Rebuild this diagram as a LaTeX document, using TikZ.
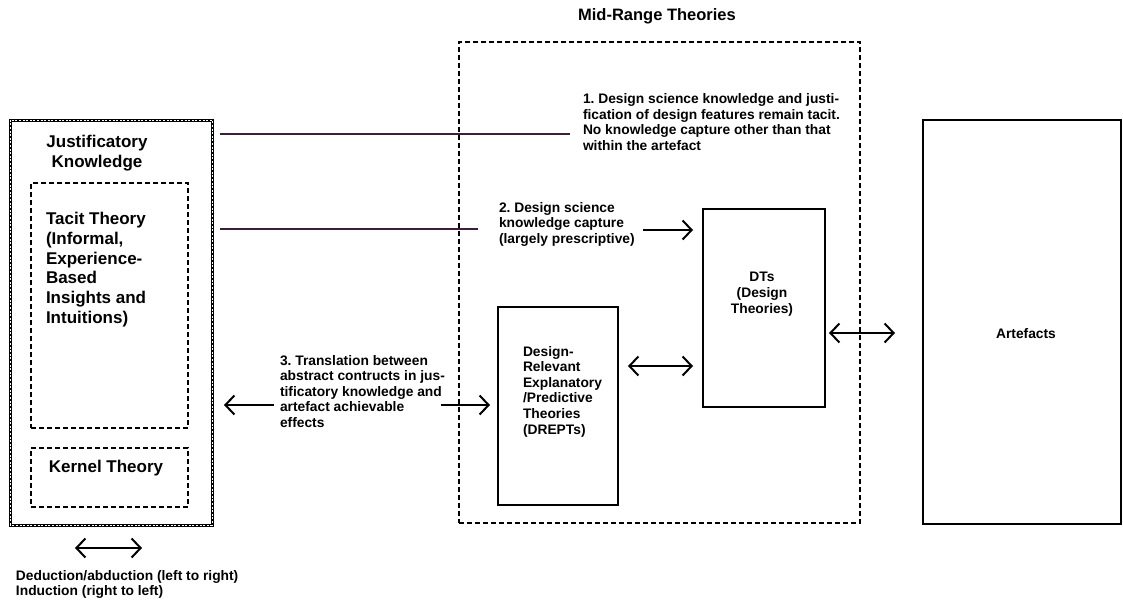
\documentclass[tikz,border=0pt]{standalone}
\usepackage{fontspec}
\setmainfont{Liberation Sans}
\usetikzlibrary{arrows.meta}
\definecolor{linkline}{RGB}{60,30,60}
\frenchspacing
\begin{document}
\begin{tikzpicture}[x=1pt,y=-1pt,
  every node/.style={inner sep=0pt, outer sep=0pt},
  ann/.style={align=left, anchor=north west, font=\bfseries\fontsize{13.8}{15.6}\selectfont},
  annc/.style={align=center, anchor=north, font=\bfseries\fontsize{13.8}{15.8}\selectfont},
  head/.style={font=\bfseries\fontsize{17}{19.7}\selectfont},
  frame/.style args={#1x#2}{draw, rectangle, minimum width=#1pt, minimum height=#2pt},
  dashbox/.style={dash pattern=on 5pt off 3pt, line width=1.2pt},
  conn/.style={draw=linkline, line width=2pt},
  tip/.tip={Straight Barb[length=9pt,width=19pt]},
  arr/.style={line width=2pt, tip-tip},
  arrone/.style={line width=2pt, -tip}
  ]
\useasboundingbox (0,0) rectangle (1123,603);

% Title of the middle region
\node[font=\bfseries\fontsize{16.5}{19}\selectfont] (title) at (657,16.5) {Mid-Range Theories};

% Justificatory knowledge with its two inner boxes
\node[frame=202x405, line width=3pt] (jk) at (111,322.5) {};
\draw[white, line width=0.8pt, dash pattern=on 2pt off 1.6pt] (jk.south west) rectangle (jk.north east);
\node[head, align=center, anchor=north] (jktitle) at (97,135.5) {Justificatory\\Knowledge};
\node[frame=157x245, dashbox] (tacit) at (109.5,305.5) {};
\node[head, align=left, anchor=north west] (tacittext) at (46,212.5)
  {Tacit Theory\\(Informal,\\Experience-\\Based\\Insights and\\Intuitions)};
\node[frame=157x59, dashbox] (kernel) at (109.5,477.5) {};
\node[head] (kerneltext) at (106,468.5) {Kernel Theory};

% Mid-range theories region
\node[frame=401x481, dashbox] (mid) at (659.5,282.5) {};
\node[frame=120x198, line width=1.3pt] (drepts) at (558,406) {};
\node[ann] (dreptstext) at (523,346)
  {Design-\\Relevant\\Explanatory\\/Predictive\\Theories\\(DREPTs)};
\node[frame=122x198, line width=1.6pt] (dts) at (764,308) {};
\node[annc] (dtstext) at (762,272) {DTs\\(Design\\Theories)};

% Artefacts
\node[frame=198x404, line width=1.8pt] (art) at (1022,322) {};
\node[font=\bfseries\fontsize{13.8}{16}\selectfont] (arttext) at (1026,334) {Artefacts};

% Annotations
\node[ann] (t1) at (583,93.5)
  {1. Design science knowledge and justi-\\fication of design features remain tacit.\\No knowledge capture other than that\\within the artefact};
\node[ann] (t2) at (499,202)
  {2. Design science\\knowledge capture\\(largely prescriptive)};
\node[ann] (t3) at (280,355)
  {3. Translation between\\abstract contructs in jus-\\tificatory knowledge and\\artefact achievable\\effects};
\node[ann] (legend) at (16,570)
  {Deduction/abduction (left to right)\\Induction (right to left)};

% Connectors
\coordinate (l1e) at (570,134);
\coordinate (l2e) at (478,228.5);
\draw[conn, shorten <=8pt] (jk.east |- l1e) -- (l1e);
\draw[conn, shorten <=8pt] (jk.east |- l2e) -- (l2e);

\coordinate (a2s) at (643,230);
\draw[arrone, shorten >=10pt] (a2s) -- (dts.west |- a2s);

\coordinate (a3l) at (274,405);
\coordinate (a3r) at (441,405);
\draw[arrone, shorten >=12pt] (a3l) -- (jk.east |- a3l);
\draw[arrone, shorten >=8pt] (a3r) -- (drepts.west |- a3r);

\draw[arr, shorten <=10pt, shorten >=10pt] (drepts.east |- 0,366) -- (dts.west |- 0,366);
\draw[arr, shorten <=4pt, shorten >=28pt] (dts.east |- 0,333) -- (art.west |- 0,333);

\coordinate (bl) at (75,548);
\coordinate (br) at (142,548);
\draw[arr] (bl) -- (br);
\end{tikzpicture}
\end{document}
